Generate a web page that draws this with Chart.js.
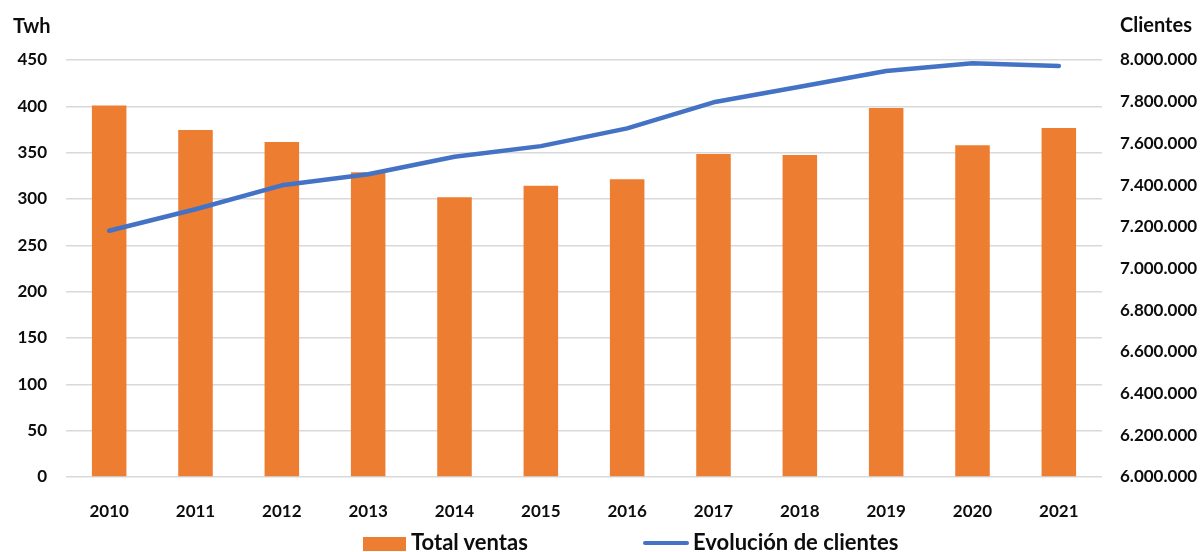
<!DOCTYPE html>
<html>
<head>
<meta charset="utf-8">
<script src="https://cdn.jsdelivr.net/npm/chart.js@4/dist/chart.umd.min.js"></script>
<style>
  html, body { margin: 0; padding: 0; background: #fff; overflow: hidden; }
  #wrap { position: relative; width: 1203px; height: 552px; }
  canvas { position: absolute; left: 0; top: 0; }
  .t { position: absolute; font-family: Lato, "Liberation Sans", sans-serif; font-weight: 700; color: #0d0d0d; white-space: nowrap; }
  .box { position: absolute; }
</style>
</head>
<body>
<div id="wrap">
  <canvas id="c" width="1203" height="552"></canvas>
  <div class="t" id="tl" style="left:13px; top:15px; font-size:20px; line-height:20px;">Twh</div>
  <div class="t" id="tr" style="left:1120px; top:14px; font-size:20px; line-height:20px;">Clientes</div>
  <div class="box" style="left:363px; top:537px; width:43px; height:14px; background:#ED7D31;"></div>
  <div class="t" style="left:411px; top:531px; font-size:22px; line-height:22px;">Total ventas</div>
  <div class="box" style="left:643px; top:541px; width:46px; height:4px; background:#4472C4; border-radius:2px;"></div>
  <div class="t" style="left:693px; top:531px; font-size:22px; line-height:22px;">Evolución de clientes</div>
</div>
<script>
const categories = ['2010','2011','2012','2013','2014','2015','2016','2017','2018','2019','2020','2021'];
const totalVentas = [401, 374.5, 361.5, 328.8, 301.8, 314.4, 321.2, 348.5, 347.5, 398.2, 357.9, 376.6];
const clientes = [7181000, 7284000, 7399000, 7452000, 7536000, 7587000, 7672000, 7797000, 7872000, 7947000, 7984000, 7971000];
const leftTicks = { min: 0, max: 450, step: 50 };
const rightTicks = { min: 6000000, max: 8000000, step: 200000 };

const tickFont = { family: 'Lato, "Liberation Sans", sans-serif', size: 17, weight: 'bold' };
const fmt = v => String(Math.round(v)).replace(/\B(?=(\d{3})+(?!\d))/g, '.');

new Chart(document.getElementById('c'), {
  data: {
    labels: categories,
    datasets: [
      {
        type: 'line',
        label: 'Evolución de clientes',
        data: clientes,
        yAxisID: 'y1',
        borderColor: '#4472C4',
        backgroundColor: '#4472C4',
        borderWidth: 4.5,
        pointRadius: 0,
        tension: 0,
        borderCapStyle: 'round',
        borderJoinStyle: 'round',
        order: 0
      },
      {
        type: 'bar',
        label: 'Total ventas',
        data: totalVentas,
        yAxisID: 'y',
        backgroundColor: '#ED7D31',
        borderWidth: 0,
        categoryPercentage: 1,
        barPercentage: 0.4,
        order: 1
      }
    ]
  },
  options: {
    responsive: false,
    animation: false,
    layout: { padding: { top: 60, left: 0, right: 0, bottom: 0 } },
    plugins: { legend: { display: false }, tooltip: { enabled: false } },
    scales: {
      x: {
        grid: { display: false },
        border: { display: false },
        ticks: { font: tickFont, color: '#0d0d0d', padding: 16, maxRotation: 0 },
        afterFit: s => { s.height = 75; }
      },
      y: {
        position: 'left',
        min: leftTicks.min, max: leftTicks.max,
        ticks: { stepSize: leftTicks.step, font: tickFont, color: '#0d0d0d', padding: 19 },
        grid: { color: '#d9d9d9', lineWidth: 1.5, drawTicks: false },
        border: { display: false },
        afterFit: s => { s.width = 66; }
      },
      y1: {
        position: 'right',
        min: rightTicks.min, max: rightTicks.max,
        ticks: { stepSize: rightTicks.step, font: tickFont, color: '#0d0d0d', padding: 18, callback: v => fmt(v) },
        grid: { display: false, drawTicks: false },
        border: { display: false },
        afterFit: s => { s.width = 101; }
      }
    }
  }
});
</script>
</body>
</html>
